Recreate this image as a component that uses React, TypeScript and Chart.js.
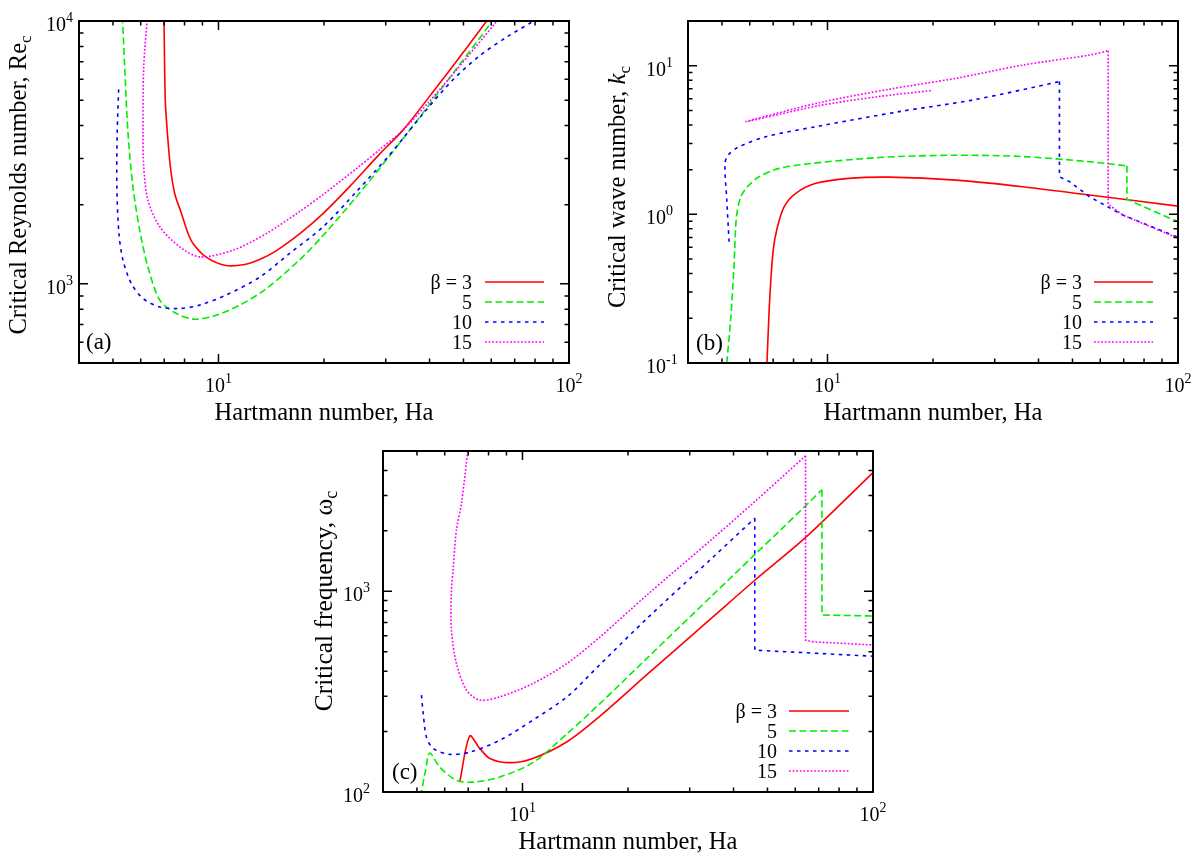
import React, { useEffect, useRef } from "react";
import { Chart, registerables } from "chart.js";

Chart.register(...registerables);

const W = 1198;
const H = 855;
const FONT = '"Liberation Serif", "Times New Roman", serif';

// Legend entries, colours and dash patterns for the four beta values
const betaLabels = ["β = 3", "5", "10", "15"];
const lineColors = ["#ff0000", "#00ee00", "#0000ff", "#ff00ff"];
const lineDashes: number[][] = [[], [7, 3.5], [3.5, 4.5], [1.8, 1.8]];

// Panel (a): critical Reynolds number vs Hartmann number
const haA3 = [6.99, 7.05, 7.15, 7.29, 7.5, 7.84, 8.19, 8.46, 9.2, 10.49, 11.89, 13.1, 14.6, 17.1, 19.9, 23.7, 28.9, 33.6, 42, 50, 58, 59.5];
const reA3 = [10400, 5000, 3737, 2789, 2208, 1854, 1555, 1425, 1267, 1175, 1185, 1238, 1335, 1555, 1854, 2348, 3130, 3845, 5618, 7623, 9930, 10500];
const haA5 = [5.32, 5.4, 5.52, 5.7, 5.96, 6.29, 6.8, 7.59, 8.56, 9.65, 11.5, 13.7, 17.1, 19.9, 24.8, 30.8, 38.4, 48, 60.3, 62];
const reA5 = [10400, 6699, 3737, 2339, 1600, 1161, 867, 771, 734, 753, 830, 960, 1240, 1530, 2151, 3074, 4490, 6636, 9955, 10600];
const haA10 = [5.19, 5.14, 5.13, 5.2, 5.34, 5.64, 6.09, 6.8, 7.75, 8.84, 10.5, 13.1, 16.0, 19.9, 24.8, 30.8, 38.4, 46.8, 55.8, 66.5, 78.4, 82];
const reA10 = [5495, 3737, 2339, 1555, 1231, 1004, 880, 817, 806, 830, 906, 1060, 1310, 1650, 2250, 3100, 4450, 6000, 7400, 8700, 9930, 10500];
const haA15 = [6.27, 6.12, 6.09, 6.12, 6.29, 6.8, 7.75, 8.84, 11.0, 13.7, 17.1, 19.9, 24.8, 28.9, 33.6, 40, 48, 62, 63.5];
const reA15 = [10400, 6699, 3737, 2789, 2083, 1649, 1383, 1267, 1343, 1555, 1890, 2190, 2750, 3250, 3845, 4952, 6571, 9930, 10500];

// Panel (b): critical wave number vs Hartmann number
const haB3 = [6.7, 6.72, 6.84, 7.0, 7.2, 7.52, 8.12, 9.27, 11.5, 15.0, 23.3, 36.1, 55.9, 100];
const kB3 = [0.085, 0.1, 0.265, 0.575, 0.825, 1.125, 1.385, 1.617, 1.747, 1.78, 1.7, 1.535, 1.349, 1.137];
const haB5 = [5.12, 5.16, 5.3, 5.41, 5.5, 5.66, 5.91, 6.38, 7.28, 9.06, 12.3, 16.0, 23.3, 36.1, 55.9, 71.5, 71.5, 100];
const kB5 = [0.085, 0.1, 0.204, 0.444, 0.964, 1.314, 1.534, 1.79, 2.04, 2.205, 2.36, 2.45, 2.5, 2.45, 2.26, 2.12, 1.262, 0.892];
const haB10 = [5.24, 5.16, 5.1, 5.21, 5.59, 6.67, 9.27, 16.0, 25.96, 45.9, 45.9, 49.1, 55.9, 69.6, 100];
const kB10 = [0.654, 1.25, 2.205, 2.51, 2.85, 3.33, 3.89, 4.91, 5.88, 7.82, 1.79, 1.658, 1.314, 0.989, 0.7];
const haB15 = [19.7, 14.0, 9.47, 5.85, 9.47, 15.0, 23.3, 36.1, 55.9, 63.2, 63.2, 69.6, 100];
const kB15 = [6.8, 6.2, 5.39, 4.2, 5.64, 6.95, 8.24, 10.1, 11.8, 12.6, 1.17, 0.99, 0.69];

// Panel (c): critical frequency vs Hartmann number
const haC3 = [6.63, 7.07, 7.55, 8.07, 9.2, 10.7, 13.4, 16.6, 22.6, 35, 46, 64.6, 100];
const wC3 = [113.5, 190, 165, 147, 140, 147, 178, 238, 383, 747, 1135, 1872, 3900];
const haC5 = [5.12, 5.29, 5.44, 5.81, 6.48, 7.23, 8.62, 10.7, 13.4, 16.6, 22.6, 35, 45.5, 54.2, 71.5, 71.5, 100];
const wC5 = [95, 128, 156.5, 133, 114.4, 112, 118.8, 140, 195, 275, 462, 963, 1496, 2004, 3203, 762, 753];
const haC10 = [5.15, 5.21, 5.32, 5.56, 6.2, 7.07, 8.62, 10.7, 13.4, 16.6, 22.6, 35, 46, 46, 100];
const wC10 = [304, 246, 188, 165, 154, 158, 181, 228, 298, 430, 729, 1481, 2313, 509, 475];
const haC15 = [7.0, 6.7, 6.48, 6.34, 6.27, 6.27, 6.48, 6.92, 7.55, 8.62, 10.7, 13.4, 16.6, 22.6, 35, 45.5, 64.2, 64.2, 67.4, 100];
const wC15 = [5200, 2750, 2023, 1280, 1015, 641, 437, 322, 287, 298, 347, 437, 590, 955, 1840, 2750, 4732, 571, 560, 540];

// Tick labels (powers of ten)
const xTickValues = [10, 100];
const xTickExps = ["1", "2"];
const yTicksA = [1000, 10000];
const yExpsA = ["3", "4"];
const yTicksB = [0.1, 1, 10];
const yExpsB = ["-1", "0", "1"];
const yTicksC = [100, 1000];
const yExpsC = ["2", "3"];

type Part = { text: string; italic?: boolean; sub?: boolean };

interface Panel {
  box: [number, number, number, number];
  xMin: number;
  xMax: number;
  yMin: number;
  yMax: number;
  yTicks: number[];
  yExps: string[];
  yLabelRight: number;
  yTitle: Part[];
  yTitleSize: number;
  yTitleX: number;
  yTitleY: number;
  tag: string;
  tagX: number;
  tagY: number;
  legendRight: number;
  legendLine: [number, number];
  legendTop: number;
  series: { ha: number[]; v: number[] }[];
}

const panels: Panel[] = [
  {
    box: [79, 21, 569, 363],
    xMin: 4, xMax: 100, yMin: 500, yMax: 10000,
    yTicks: yTicksA, yExps: yExpsA, yLabelRight: 66,
    yTitle: [{ text: "Critical Reynolds number, Re" }, { text: "c", sub: true }],
    yTitleSize: 24.5, yTitleX: 26, yTitleY: 185,
    tag: "(a)", tagX: 86, tagY: 349,
    legendRight: 472, legendLine: [485, 544], legendTop: 282,
    series: [
      { ha: haA3, v: reA3 },
      { ha: haA5, v: reA5 },
      { ha: haA10, v: reA10 },
      { ha: haA15, v: reA15 },
    ],
  },
  {
    box: [688, 21, 1178, 363],
    xMin: 4, xMax: 100, yMin: 0.1, yMax: 20,
    yTicks: yTicksB, yExps: yExpsB, yLabelRight: 666,
    yTitle: [{ text: "Critical wave number, " }, { text: "k", italic: true }, { text: "c", sub: true }],
    yTitleSize: 24.5, yTitleX: 625, yTitleY: 187,
    tag: "(b)", tagX: 696, tagY: 350,
    legendRight: 1082, legendLine: [1094, 1153], legendTop: 282,
    series: [
      { ha: haB3, v: kB3 },
      { ha: haB5, v: kB5 },
      { ha: haB10, v: kB10 },
      { ha: haB15, v: kB15 },
    ],
  },
  {
    box: [383, 451, 873, 792],
    xMin: 4, xMax: 100, yMin: 100, yMax: 5000,
    yTicks: yTicksC, yExps: yExpsC, yLabelRight: 363,
    yTitle: [{ text: "Critical frequency, " }, { text: "ω" }, { text: "c", sub: true }],
    yTitleSize: 25.5, yTitleX: 332, yTitleY: 601,
    tag: "(c)", tagX: 392, tagY: 779,
    legendRight: 777, legendLine: [789, 849], legendTop: 711,
    series: [
      { ha: haC3, v: wC3 },
      { ha: haC5, v: wC5 },
      { ha: haC10, v: wC10 },
      { ha: haC15, v: wC15 },
    ],
  },
];

function logTicks(min: number, max: number) {
  const out: { v: number; major: boolean }[] = [];
  const e0 = Math.floor(Math.log10(min));
  const e1 = Math.ceil(Math.log10(max));
  for (let e = e0; e <= e1; e++) {
    for (let m = 1; m <= 9; m++) {
      const v = m * Math.pow(10, e);
      if (v > min * 1.0001 && v < max * 0.9999) out.push({ v, major: m === 1 });
    }
  }
  return out;
}

// index of the top of a vertical jump (same Ha twice, reached and left going right)
function findDrop(ha: number[]) {
  for (let j = 1; j + 2 < ha.length; j++) {
    if (ha[j - 1] < ha[j] && ha[j] === ha[j + 1] && ha[j + 2] > ha[j + 1]) return j;
  }
  return -1;
}

function framePlugin(panel: Panel) {
  const partFont = (p: Part) => {
    const size = p.sub ? Math.round(panel.yTitleSize * 0.7) : panel.yTitleSize;
    return `${p.italic ? "italic " : ""}${size}px ${FONT}`;
  };
  return {
    id: "frame",
    afterDraw(chart: any) {
      const ctx: CanvasRenderingContext2D = chart.ctx;
      const { left, top, right, bottom } = chart.chartArea;
      const xs = chart.scales.x;
      const ys = chart.scales.y;
      ctx.save();
      ctx.strokeStyle = "#000";
      ctx.fillStyle = "#000";
      ctx.setLineDash([]);

      // inward ticks on all four sides
      ctx.lineWidth = 1.5;
      ctx.beginPath();
      for (const t of logTicks(panel.xMin, panel.xMax)) {
        const px = xs.getPixelForValue(t.v);
        const len = t.major ? 9 : 4.5;
        ctx.moveTo(px, bottom);
        ctx.lineTo(px, bottom - len);
        ctx.moveTo(px, top);
        ctx.lineTo(px, top + len);
      }
      for (const t of logTicks(panel.yMin, panel.yMax)) {
        const py = ys.getPixelForValue(t.v);
        const len = t.major ? 9 : 4.5;
        ctx.moveTo(left, py);
        ctx.lineTo(left + len, py);
        ctx.moveTo(right, py);
        ctx.lineTo(right - len, py);
      }
      ctx.stroke();

      // border
      ctx.lineWidth = 2;
      ctx.strokeRect(left, top, right - left, bottom - top);

      // tick labels
      ctx.textAlign = "left";
      ctx.textBaseline = "alphabetic";
      const baseFont = `20px ${FONT}`;
      const supFont = `14px ${FONT}`;
      ctx.font = baseFont;
      const w10 = ctx.measureText("10").width;
      xTickValues.forEach((v, i) => {
        if (v < panel.xMin || v > panel.xMax) return;
        const px = xs.getPixelForValue(v);
        ctx.font = supFont;
        const we = ctx.measureText(xTickExps[i]).width;
        const x0 = px - (w10 + we) / 2;
        ctx.font = baseFont;
        ctx.fillText("10", x0, bottom + 29);
        ctx.font = supFont;
        ctx.fillText(xTickExps[i], x0 + w10, bottom + 20);
      });
      panel.yTicks.forEach((v, i) => {
        const py = ys.getPixelForValue(v);
        ctx.font = baseFont;
        ctx.fillText("10", panel.yLabelRight - w10, py + 10);
        ctx.font = supFont;
        ctx.fillText(panel.yExps[i], panel.yLabelRight, py + 1);
      });

      // x title
      ctx.font = `24.5px ${FONT}`;
      ctx.textAlign = "center";
      ctx.fillText("Hartmann number, Ha", (left + right) / 2, bottom + 57);

      // y title, rotated
      ctx.save();
      ctx.translate(panel.yTitleX, panel.yTitleY);
      ctx.rotate(-Math.PI / 2);
      ctx.textAlign = "left";
      let total = 0;
      for (const p of panel.yTitle) {
        ctx.font = partFont(p);
        total += ctx.measureText(p.text).width;
      }
      let tx = -total / 2;
      for (const p of panel.yTitle) {
        ctx.font = partFont(p);
        ctx.fillText(p.text, tx, p.sub ? 5 : 0);
        tx += ctx.measureText(p.text).width;
      }
      ctx.restore();

      // panel tag
      ctx.textAlign = "left";
      ctx.font = `23px ${FONT}`;
      ctx.fillText(panel.tag, panel.tagX, panel.tagY);

      // legend
      ctx.font = `20px ${FONT}`;
      ctx.textAlign = "right";
      betaLabels.forEach((label, i) => {
        const y = panel.legendTop + i * 20;
        ctx.fillStyle = "#000";
        ctx.fillText(label, panel.legendRight, y + 7);
        ctx.strokeStyle = lineColors[i];
        ctx.lineWidth = 1.6;
        ctx.setLineDash(lineDashes[i]);
        ctx.beginPath();
        ctx.moveTo(panel.legendLine[0], y);
        ctx.lineTo(panel.legendLine[1], y);
        ctx.stroke();
      });
      ctx.restore();
    },
  };
}

function buildDatasets(panel: Panel) {
  const sets: any[] = [];
  panel.series.forEach((s, i) => {
    const pts = s.ha.map((x, j) => ({ x, y: s.v[j] }));
    const base = {
      label: betaLabels[i],
      showLine: true,
      borderColor: lineColors[i],
      backgroundColor: lineColors[i],
      borderDash: lineDashes[i],
      borderWidth: 1.6,
      pointRadius: 0,
      pointHoverRadius: 0,
      fill: false,
      order: 3 - i,
    };
    const d = findDrop(s.ha);
    if (d < 0) {
      sets.push({ ...base, data: pts, tension: 0.3 });
    } else {
      // smooth branch up to the jump, straight segments for the jump and its tail
      sets.push({ ...base, data: pts.slice(0, d + 1), tension: 0.3 });
      sets.push({ ...base, data: pts.slice(d), tension: 0 });
    }
  });
  return sets;
}

function PanelChart({ panel }: { panel: Panel }) {
  const ref = useRef<HTMLCanvasElement>(null);
  useEffect(() => {
    const [l, t, r, b] = panel.box;
    const chart = new Chart(ref.current as HTMLCanvasElement, {
      type: "scatter",
      data: { datasets: buildDatasets(panel) },
      options: {
        responsive: false,
        animation: false,
        devicePixelRatio: 1,
        events: [],
        layout: { padding: { left: l, top: t, right: W - r, bottom: H - b } },
        plugins: { legend: { display: false }, tooltip: { enabled: false } },
        scales: {
          x: { type: "logarithmic", min: panel.xMin, max: panel.xMax, display: false },
          y: { type: "logarithmic", min: panel.yMin, max: panel.yMax, display: false },
        },
      },
      plugins: [framePlugin(panel)],
    } as any);
    return () => chart.destroy();
  }, [panel]);
  return (
    <canvas
      ref={ref}
      width={W}
      height={H}
      style={{ position: "absolute", left: 0, top: 0, width: W, height: H }}
    />
  );
}

export default function App() {
  return (
    <div style={{ position: "absolute", left: 0, top: 0, width: W, height: H, background: "#fff" }}>
      {panels.map((p, i) => (
        <PanelChart key={i} panel={p} />
      ))}
    </div>
  );
}
